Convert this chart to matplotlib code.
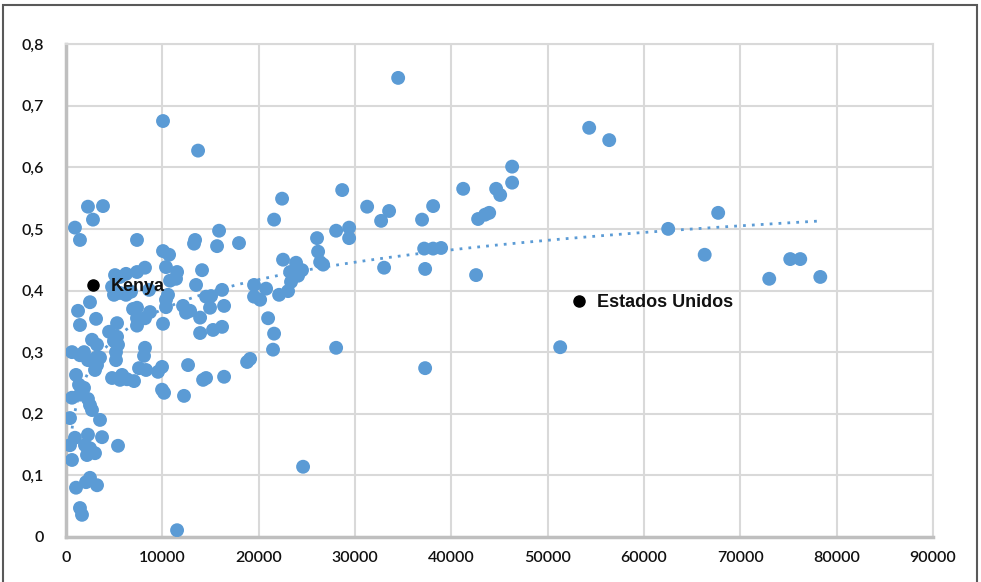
import numpy as np
import matplotlib.pyplot as plt
from matplotlib.ticker import FuncFormatter, MultipleLocator
from matplotlib.patches import Rectangle

plt.rcParams['font.family'] = ['Lato', 'DejaVu Sans']

# ---- Data: GDP per capita (x) vs index (y) ----
gdp = [
    # 0 - 10000
    930, 1450, 2280, 2800, 3840, 1250, 1450, 2490, 3120, 2700,
    3220, 620, 1450, 1870, 2280, 3120, 3530, 3220, 3010, 1040,
    1350, 1870, 1450, 620, 2280, 2490, 2700, 3530, 3740, 930,
    2280, 415, 1970, 2490, 3010, 2180, 620, 5400, 2490, 2080,
    3220, 1040, 1450, 1660, 415,
    4780, 5090, 5610, 6230, 7370, 8200, 7370, 4980, 5610, 6230,
    6750, 8620, 6960, 7370, 7370, 7370, 8720, 8200, 4470, 5300,
    5300, 4980, 5400, 5190, 5190, 8200, 8100, 4780, 5820, 5610,
    6330, 7060, 7580, 8310, 9550, 9970, 9970, 10180, 10070,
    # 10000 - 20000
    10070, 13710, 10070, 10700, 10380, 10800, 10590, 10380, 10380, 11530,
    11420, 13400, 13290, 15890, 15680, 17960, 14120, 13500, 14540, 15060,
    16200, 16410, 14950, 12150, 12460, 12880, 13920, 13920, 15260, 16200,
    12670, 14540, 14230, 16410, 12250, 11530, 18800, 19110,
    # 20000 - 30000
    22430, 21600, 26060, 22530, 26170, 26380, 26690, 23880, 24500, 23260,
    24090, 23360, 23050, 22120, 20770, 20150, 19520, 19520, 20980, 21600,
    21490, 28670, 28040, 29390, 29390, 28040, 24610,
    # 30000 +
    34480, 54310, 56390, 46310, 46310, 41230, 44650, 45070, 43930, 43500,
    42780, 38110, 36960, 33540, 32710, 31260, 38940, 38110, 37180, 42570,
    33020, 37280, 37280, 51300, 62510, 66300, 67700, 73000, 75180, 76220,
    78300,
]
index = [
    0.502, 0.482, 0.536, 0.515, 0.537, 0.367, 0.344, 0.381, 0.354, 0.320,
    0.312, 0.300, 0.295, 0.300, 0.287, 0.291, 0.291, 0.279, 0.271, 0.263,
    0.247, 0.242, 0.231, 0.226, 0.224, 0.214, 0.206, 0.190, 0.162, 0.161,
    0.166, 0.149, 0.149, 0.144, 0.136, 0.133, 0.125, 0.148, 0.096, 0.089,
    0.084, 0.080, 0.047, 0.036, 0.193,
    0.406, 0.425, 0.422, 0.427, 0.430, 0.437, 0.482, 0.393, 0.396, 0.393,
    0.398, 0.401, 0.370, 0.372, 0.355, 0.343, 0.365, 0.355, 0.333, 0.347,
    0.325, 0.318, 0.312, 0.300, 0.287, 0.307, 0.294, 0.258, 0.263, 0.255,
    0.256, 0.253, 0.274, 0.271, 0.268, 0.276, 0.239, 0.234, 0.346,
    0.675, 0.627, 0.464, 0.458, 0.438, 0.416, 0.393, 0.385, 0.373, 0.430,
    0.419, 0.482, 0.476, 0.497, 0.472, 0.477, 0.433, 0.409, 0.390, 0.391,
    0.401, 0.375, 0.372, 0.375, 0.364, 0.367, 0.356, 0.331, 0.336, 0.341,
    0.279, 0.258, 0.255, 0.260, 0.229, 0.011, 0.284, 0.289,
    0.549, 0.515, 0.485, 0.450, 0.463, 0.446, 0.442, 0.445, 0.433, 0.430,
    0.424, 0.414, 0.399, 0.393, 0.403, 0.385, 0.390, 0.409, 0.355, 0.330,
    0.304, 0.563, 0.497, 0.502, 0.485, 0.307, 0.114,
    0.745, 0.664, 0.644, 0.601, 0.575, 0.565, 0.565, 0.555, 0.526, 0.523,
    0.516, 0.537, 0.515, 0.529, 0.513, 0.536, 0.469, 0.468, 0.468, 0.425,
    0.437, 0.435, 0.274, 0.308, 0.500, 0.458, 0.526, 0.419, 0.451, 0.451,
    0.422,
]

highlight_names = ['Kenya', 'Estados Unidos']
highlight_gdp = [2800, 53270]
highlight_index = [0.409, 0.383]

gdp = np.array(gdp, dtype=float)
index = np.array(index)

# ---- Logarithmic trendline (as in Excel) ----
b, a = np.polyfit(np.log(gdp), index, 1)
xt = np.linspace(gdp.min(), gdp.max(), 300)
yt = a + b * np.log(xt)

# ---- Plotting ----
fig = plt.figure(figsize=(9.81, 5.82), dpi=100)
ax = fig.add_axes([66 / 981, 1 - 537 / 582, (933 - 66) / 981, (537 - 44) / 582])

ax.scatter(gdp, index, s=100, color='#5B9BD5', edgecolors='none', zorder=3)
ax.plot(xt, yt, linestyle=(0, (1, 2.2)), color='#5B9BD5', linewidth=2, zorder=2)

ax.scatter(highlight_gdp, highlight_index, s=64, color='black', zorder=4)
for name, x, y in zip(highlight_names, highlight_gdp, highlight_index):
    ax.annotate(name, (x, y), xytext=(13, -1), textcoords='offset points',
                va='center', ha='left', fontsize=13, fontweight='bold',
                family=['Liberation Sans', 'DejaVu Sans'],
                color='#111111', zorder=5)

ax.set_xlim(0, 90000)
ax.set_ylim(0, 0.8)
ax.xaxis.set_major_locator(MultipleLocator(10000))
ax.yaxis.set_major_locator(MultipleLocator(0.1))
ax.yaxis.set_major_formatter(FuncFormatter(lambda v, p: ('%g' % round(v, 1)).replace('.', ',')))
ax.xaxis.set_major_formatter(FuncFormatter(lambda v, p: '%d' % v))

ax.grid(True, color='#d9d9d9', linewidth=1.5)
ax.set_axisbelow(True)
for side in ['top', 'right']:
    ax.spines[side].set_color('#d9d9d9')
    ax.spines[side].set_linewidth(1.5)
for side in ['left', 'bottom']:
    ax.spines[side].set_color('#bfbfbf')
    ax.spines[side].set_linewidth(2.5)

ax.tick_params(length=0, labelsize=11.5, labelcolor='#111111')
for lab in ax.get_xticklabels() + ax.get_yticklabels():
    lab.set_fontweight('semibold')
ax.tick_params(axis='x', pad=10)
ax.tick_params(axis='y', pad=16)

# outer chart frame
fig.patches.append(Rectangle((3 / 981, -0.02), 974 / 981, 1 - 5 / 582 + 0.02,
                             transform=fig.transFigure, fill=False,
                             edgecolor='#595959', linewidth=1.5))

fig.savefig('out.png', dpi=100)
